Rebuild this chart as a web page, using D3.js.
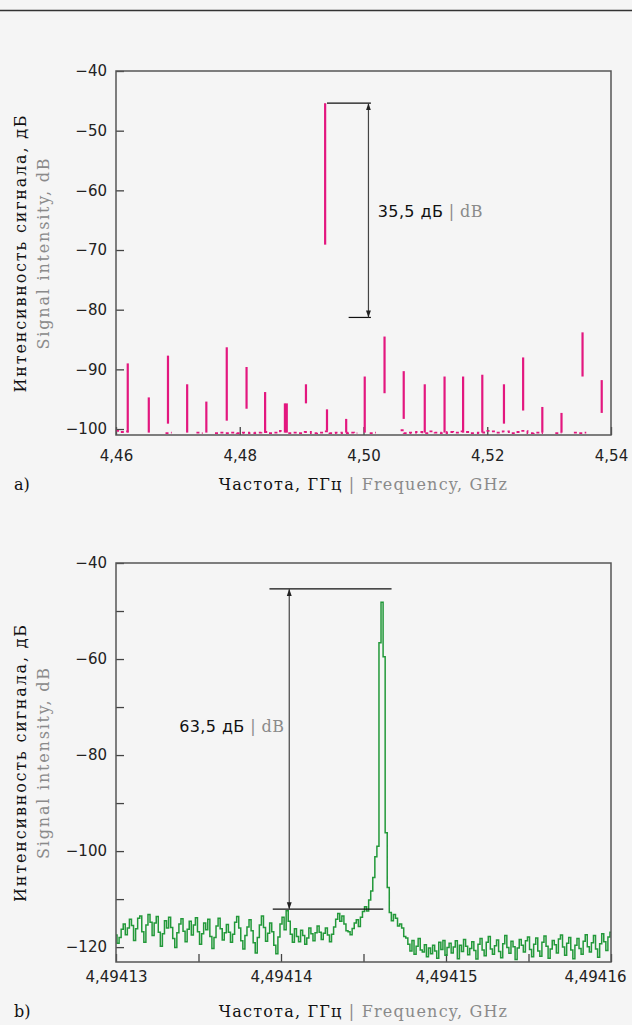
<!DOCTYPE html>
<html>
<head>
<meta charset="utf-8">
<script src="https://cdn.jsdelivr.net/npm/d3@7"></script>
<style>
  body { margin: 0; background: #f5f5f5; }
  svg { display: block; }
</style>
</head>
<body>
<script>
// ---- chart a) : spectrum 4.46 .. 4.54 GHz
const xTicksA = [4.46, 4.48, 4.50, 4.52, 4.54]
const yTicksA = [-40, -50, -60, -70, -80, -90, -100]
const spikeFreqA = [4.4619, 4.4653, 4.4684, 4.4715, 4.4746, 4.4779, 4.4811, 4.4841, 4.4873, 4.4876, 4.4907,
  4.4938, 4.4941, 4.4972, 4.5002, 4.5034, 4.5065, 4.5099, 4.5131, 4.5161, 4.5192, 4.5227, 4.5258,
  4.5289, 4.5320, 4.5354, 4.5385]
const spikeTopA = [-89.0, -94.7, -87.7, -92.5, -95.4, -86.3, -89.6, -93.8, -95.7, -95.7, -92.5,
  -45.4, -96.7, -98.3, -91.2, -84.5, -90.3, -92.5, -91.2, -91.2, -90.9, -92.5, -88.0,
  -96.3, -97.3, -83.8, -91.8]
const spikeBottomA = [-100.6, -100.6, -99.1, -100.6, -100.6, -98.6, -96.6, -100.6, -100.6, -100.6, -95.7,
  -69.1, -100.3, -100.6, -100.6, -94.0, -98.3, -100.6, -100.6, -100.6, -100.6, -99.1, -96.9,
  -100.6, -100.6, -91.2, -97.3]
// noise floor, one value per MHz from 4.460 GHz (null = nothing shown)
const floorA = [-100.3, -100.5, -100.4, null, -100.6, null, -100.7, null, -100.7, -100.6, null, -100.7, null,
  -100.6, -100.7, null, -100.7, -100.6, -100.7, -100.6, -100.7, -100.6, -100.7, -100.6, -100.5, -100.7,
  -100.6, -100.3, -100.7, -100.6, -100.7, -100.5, -100.7, -100.6, -100.4, -100.7, -100.6, -100.7, -100.6,
  -100.7, null, -100.7, -100.6, null, -100.7, null, -100.2, -100.7, -100.6, -100.5, -100.7, -100.4, -100.6,
  -100.7, -100.5, -100.6, -100.4, -100.5, -100.7, -100.6, -100.3, -100.4, -100.6, -100.4, -100.7, -100.5,
  -100.3, -100.7, -100.6, -100.7, null, -100.7, -100.6, null, -100.6, -100.7, -100.6, null, -100.7, null, -100.6]
const annA = { x: 4.5008, xTop0: 4.4941, xBot0: 4.4976, x1: 4.5012, top: -45.4, bottom: -81.3, textX: 4.5023, textY: -63.5, label: "35,5 дБ" }

// ---- chart b) : single line 4.49413 .. 4.49416 GHz
const xTicksB = [4.49413, 4.49414, 4.49415, 4.49416]
const xMinorB = [4.494135, 4.494145, 4.494155]
const yTicksB = [-40, -60, -80, -100, -120]
const yMinorB = [-50, -70, -90, -110]
const startB = 4.49413
const stepB = 0.000000125   // sweep step, GHz
const traceB = [
  -117.5, -119.2, -118.0, -116.3, -115.2, -117.4, -116.0, -114.2, -115.5, -118.6, -116.2, -114.0, -113.5, -116.8, -119.0, -115.4, -113.2, -114.8, -117.6, -115.0,
  -113.6, -116.9, -119.8, -117.2, -114.5, -116.0, -113.8, -115.9, -118.2, -120.1, -117.0, -115.2, -114.1, -116.7, -118.9, -116.3, -114.6, -117.5, -115.4, -113.9,
  -116.8, -119.4, -117.2, -115.0, -116.4, -114.2, -117.8, -120.3, -118.0, -115.6, -114.0, -116.2, -118.5, -117.0, -115.3, -116.9, -119.0, -117.3, -114.8, -113.6,
  -116.0, -118.7, -120.4, -117.6, -115.8, -114.3, -116.6, -119.1, -121.2, -118.0, -115.4, -113.5, -115.9, -118.8, -117.1, -115.0, -116.8, -119.6, -121.4, -117.9,
  -115.2, -113.8, -116.4, -112.4, -114.6, -117.3, -119.0, -116.2, -117.8, -118.9, -116.5, -117.6, -119.4, -118.1, -116.0, -117.2, -118.7, -117.0, -115.6, -116.9,
  -118.4, -117.1, -116.0, -117.5, -118.9, -117.3, -115.8, -114.2, -113.0, -114.6, -113.5, -115.2, -116.6, -116.8, -117.4, -116.1, -115.0, -114.3, -115.7, -113.8,
  -112.6, -111.6,
  -112.5, -110.2, -108.3, -105.5, -101.2, -99.0, -56.6, -48.2, -59.5, -96.2, -107.6,
  -112.8, -114.5, -113.2, -114.0, -115.6, -115.2, -116.0, -117.8, -118.1, -119.4,
  -120.8, -118.6, -121.5, -119.8, -118.2, -120.6, -121.0, -119.5, -122.0, -120.2, -121.4, -119.6, -120.8, -122.3, -119.0, -120.5, -118.6, -121.7, -120.1, -119.2,
  -121.2, -120.0, -118.7, -122.4, -119.6, -120.9, -118.4, -119.8, -121.6, -120.3, -118.9, -120.7, -122.5, -119.4, -118.2, -120.6, -121.8, -119.0, -117.8, -120.4,
  -121.5, -119.7, -118.5, -120.9, -122.2, -119.3, -117.6, -120.1, -121.3, -118.8, -119.9, -122.6, -120.2, -118.4, -119.6, -121.0, -118.7, -117.9, -120.5, -122.0,
  -119.4, -118.1, -120.8, -121.9, -119.0, -117.7, -119.8, -122.3, -120.4, -118.6, -119.5, -121.2, -118.3, -117.5, -120.0, -121.7, -119.2, -118.0, -120.6, -122.4,
  -119.6, -118.2, -120.3, -121.5, -118.8, -117.4, -119.9, -121.0, -119.1, -117.6, -120.4, -122.1, -119.3, -117.2, -118.9, -120.7, -117.9, -116.9]
const annB = { x: 4.4941405, xTop0: 4.4941393, xBot0: 4.4941395, xTop1: 4.4941467, xBot1: 4.4941462, top: -45.4, bottom: -112.1, textX: 4.4941402, textY: -74.1, label: "63,5 дБ" }

const yTitleRu = "Интенсивность сигнала, дБ"
const yTitleEn = "Signal intensity, dB"
const xTitleRu = "Частота, ГГц"
const xTitleEn = "Frequency, GHz"

const pink = "#e3177f"
const green = "#23993a"
const grey = "#8a8a8a"

var width = 632, height = 1025
var left = 116, right = 611

var svg = d3.select("body").append("svg")
  .attr("width", width)
  .attr("height", height)

svg.append("line")
  .attr("x1", 0).attr("x2", width)
  .attr("y1", 10.5).attr("y2", 10.5)
  .attr("stroke", "#333").attr("stroke-width", 1.5)

svg.append("defs").append("marker")
  .attr("id", "arr")
  .attr("viewBox", "0 0 10 10")
  .attr("refX", 10).attr("refY", 5)
  .attr("markerWidth", 7).attr("markerHeight", 7)
  .attr("markerUnits", "userSpaceOnUse")
  .attr("orient", "auto-start-reverse")
  .append("path")
  .attr("d", "M0,1.5L10,5L0,8.5Z")
  .attr("fill", "#222")

var comma = s => s.replace(".", ",")

function frame(top, bottom, x, y, xTicks, yTicks, xMinor, yMinor, xFmt, xPad) {
  var g = svg.append("g")

  var ax = d3.axisBottom(x).tickValues(xTicks).tickSize(-8).tickPadding(xPad)
    .tickFormat(d => comma(xFmt(d)))
  var gx = g.append("g").attr("transform", "translate(0," + bottom + ")").call(ax)

  var ay = d3.axisLeft(y).tickValues(yTicks).tickSize(-8).tickPadding(9)
    .tickFormat(d => String(d).replace("-", "\u2212"))
  g.append("g").attr("transform", "translate(" + left + ",0)").call(ay)

  if (xMinor) {
    g.append("g").attr("transform", "translate(0," + bottom + ")")
      .call(d3.axisBottom(x).tickValues(xMinor).tickSize(-8).tickFormat(""))
  }
  if (yMinor) {
    g.append("g").attr("transform", "translate(" + left + ",0)")
      .call(d3.axisLeft(y).tickValues(yMinor).tickSize(-8).tickFormat(""))
  }

  g.selectAll(".domain").remove()
  g.selectAll(".tick line").attr("stroke", "#444").attr("stroke-width", 1.3)
  g.selectAll(".tick text")
    .attr("font-family", "DejaVu Sans").attr("font-size", 15).attr("fill", "#222")
  return gx
}

function box(top, bottom) {
  svg.append("rect")
    .attr("x", left).attr("y", top)
    .attr("width", right - left).attr("height", bottom - top)
    .attr("fill", "none").attr("stroke", "#555").attr("stroke-width", 1.5)
}

function titles(top, bottom, xTitleY, panel) {
  var cy = (top + bottom) / 2
  svg.append("text")
    .attr("transform", "translate(26," + cy + ") rotate(-90)")
    .attr("text-anchor", "middle")
    .attr("font-family", "DejaVu Serif").attr("font-size", 16)
    .attr("letter-spacing", 1.8).attr("fill", "#111")
    .text(yTitleRu)
  svg.append("text")
    .attr("transform", "translate(49," + cy + ") rotate(-90)")
    .attr("text-anchor", "middle")
    .attr("font-family", "DejaVu Serif").attr("font-size", 16)
    .attr("letter-spacing", 1.8).attr("fill", grey)
    .text(yTitleEn)

  var t = svg.append("text")
    .attr("x", (left + right) / 2).attr("y", xTitleY)
    .attr("text-anchor", "middle")
    .attr("font-family", "DejaVu Serif").attr("font-size", 16)
    .attr("letter-spacing", 1.2).attr("fill", "#111")
  t.append("tspan").text(xTitleRu + " ")
  t.append("tspan").attr("fill", grey).text("| " + xTitleEn)

  svg.append("text")
    .attr("x", 14).attr("y", xTitleY)
    .attr("font-family", "DejaVu Serif").attr("font-size", 16).attr("fill", "#111")
    .text(panel)
}

function dbLabel(x, y, anchor, label) {
  var t = svg.append("text")
    .attr("x", x).attr("y", y).attr("dy", "0.35em")
    .attr("text-anchor", anchor)
    .attr("font-family", "DejaVu Sans").attr("font-size", 16)
    .attr("letter-spacing", 0.4).attr("fill", "#111")
  t.append("tspan").text(label + " ")
  t.append("tspan").attr("fill", grey).attr("font-family", "DejaVu Serif").text("| dB")
}

// ================= a)
var topA = 71, bottomA = 435
var xA = d3.scaleLinear().domain([4.46, 4.54]).range([left, right])
var yA = d3.scaleLinear().domain([-101, -40]).range([bottomA, topA])

frame(topA, bottomA, xA, yA, xTicksA, yTicksA, null, null, d3.format(".2f"), 15)

var floorLine = d3.line()
  .defined(d => d != null)
  .x((d, i) => xA(4.46 + i * 0.001))
  .y(d => yA(d))
  .curve(d3.curveStep)

svg.append("path")
  .attr("d", floorLine(floorA))
  .attr("fill", "none").attr("stroke", pink)
  .attr("stroke-width", 1.8).attr("stroke-dasharray", "3,3")

svg.append("g").selectAll("line")
  .data(spikeFreqA)
  .join("line")
  .attr("x1", d => xA(d)).attr("x2", d => xA(d))
  .attr("y1", (d, i) => yA(spikeTopA[i]))
  .attr("y2", (d, i) => yA(spikeBottomA[i]))
  .attr("stroke", pink).attr("stroke-width", 2.2)

box(topA, bottomA)

// 35,5 dB annotation
svg.append("line")
  .attr("x1", xA(annA.xTop0)).attr("x2", xA(annA.x1))
  .attr("y1", yA(annA.top)).attr("y2", yA(annA.top))
  .attr("stroke", "#111").attr("stroke-width", 1.2)
svg.append("line")
  .attr("x1", xA(annA.xBot0)).attr("x2", xA(annA.x1))
  .attr("y1", yA(annA.bottom)).attr("y2", yA(annA.bottom))
  .attr("stroke", "#111").attr("stroke-width", 1.2)
svg.append("line")
  .attr("x1", xA(annA.x)).attr("x2", xA(annA.x))
  .attr("y1", yA(annA.bottom)).attr("y2", yA(annA.top))
  .attr("stroke", "#444").attr("stroke-width", 1.2)
  .attr("marker-start", "url(#arr)").attr("marker-end", "url(#arr)")
dbLabel(xA(annA.textX), yA(annA.textY), "start", annA.label)

titles(topA, bottomA, 490, "a)")

// ================= b)
var topB = 563, bottomB = 962
var xB = d3.scaleLinear().domain([4.49413, 4.49416]).range([left, right])
var yB = d3.scaleLinear().domain([-123.1, -40]).range([bottomB, topB])

var gxB = frame(topB, bottomB, xB, yB, xTicksB, yTicksB, xMinorB, yMinorB, d3.format(".5f"), 9)
// last label kept inside the page, as in the original
gxB.selectAll(".tick text").filter(d => d === xTicksB[xTicksB.length - 1])
  .attr("text-anchor", "end").attr("x", 15)

var traceLine = d3.line()
  .x((d, i) => xB(startB + i * stepB))
  .y(d => yB(d))
  .curve(d3.curveStep)

svg.append("path")
  .attr("d", traceLine(traceB))
  .attr("fill", "none").attr("stroke", green)
  .attr("stroke-width", 1.5).attr("stroke-linejoin", "miter")

box(topB, bottomB)

// 63,5 dB annotation
svg.append("line")
  .attr("x1", xB(annB.xTop0)).attr("x2", xB(annB.xTop1))
  .attr("y1", yB(annB.top)).attr("y2", yB(annB.top))
  .attr("stroke", "#111").attr("stroke-width", 1.2)
svg.append("line")
  .attr("x1", xB(annB.xBot0)).attr("x2", xB(annB.xBot1))
  .attr("y1", yB(annB.bottom)).attr("y2", yB(annB.bottom))
  .attr("stroke", "#111").attr("stroke-width", 1.2)
svg.append("line")
  .attr("x1", xB(annB.x)).attr("x2", xB(annB.x))
  .attr("y1", yB(annB.bottom)).attr("y2", yB(annB.top))
  .attr("stroke", "#444").attr("stroke-width", 1.2)
  .attr("marker-start", "url(#arr)").attr("marker-end", "url(#arr)")
dbLabel(xB(annB.textX), yB(annB.textY), "end", annB.label)

titles(topB, bottomB, 1017, "b)")
</script>
</body>
</html>
